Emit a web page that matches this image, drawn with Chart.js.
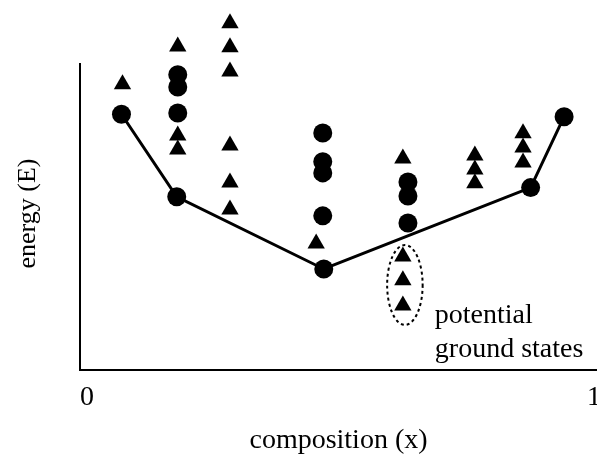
<!DOCTYPE html>
<html lang="en">
<head>
    <meta charset="UTF-8">
    <title>energy vs composition</title>
    <script src="https://cdn.jsdelivr.net/npm/chart.js"></script>
    <style>
        body { margin: 0; background: #fff; }
    </style>
</head>
<body>
    <canvas id="hullChart" width="597" height="465"></canvas>

    <script>
        // x tick labels
        const xTicks = [0, 1];

        // convex hull (ground state line)
        const hullX = [0.068, 0.177, 0.467, 0.875, 0.941];
        const hullE = [83.3, 56.4, 32.9, 59.4, 82.5];

        // other computed structures - circles
        const circleX = [0.179, 0.179, 0.179, 0.465, 0.465, 0.465, 0.465, 0.633, 0.633, 0.633];
        const circleE = [96.2, 92.2, 83.7, 77.2, 67.8, 64.2, 50.2, 61.2, 56.7, 47.9];

        // other computed structures - triangles
        const triX = [0.070, 0.179, 0.179, 0.179, 0.282, 0.282, 0.282, 0.282, 0.282, 0.282,
                      0.452, 0.623, 0.623, 0.623, 0.623, 0.765, 0.765, 0.765, 0.860, 0.860, 0.860];
        const triE = [93.1, 105.4, 76.4, 71.8, 112.9, 105.1, 97.2, 73.1, 61.1, 52.3,
                      41.2, 68.9, 37.0, 29.2, 21.0, 69.9, 65.3, 60.8, 77.1, 72.5, 67.6];

        // the drawn energy axis only runs up to here
        const axisTopE = 100;

        // dashed ring round the candidates, and its note
        const ringX = 0.627, ringE = 27.7, ringHalfW = 0.035, ringHalfH = 13.0;
        const noteX = 0.686;
        const noteLines = ['potential', 'ground states'];
        const noteE = [15.3, 4.2];

        const serif = '"Liberation Serif", "Times New Roman", serif';
        const toPoints = (xs, ys) => xs.map((v, i) => ({ x: v, y: ys[i] }));

        const extras = {
            id: 'extras',
            afterDatasetsDraw(chart) {
                const { ctx, chartArea, scales: { x, y } } = chart;
                const y0 = y.getPixelForValue(0);
                const yTop = y.getPixelForValue(axisTopE);
                ctx.save();
                ctx.strokeStyle = '#000';
                ctx.fillStyle = '#000';

                // short energy axis
                ctx.lineWidth = 2;
                ctx.beginPath();
                ctx.moveTo(chartArea.left, y0);
                ctx.lineTo(chartArea.left, yTop);
                ctx.stroke();

                // x tick labels (drawn here so the last one may run off the edge)
                ctx.font = '28px ' + serif;
                ctx.textAlign = 'center';
                ctx.textBaseline = 'top';
                xTicks.forEach(v => ctx.fillText(String(v), x.getPixelForValue(v), y0 + 14));

                // energy title, centred on the drawn axis
                ctx.save();
                ctx.translate(28, (y0 + yTop) / 2 - 3);
                ctx.rotate(-Math.PI / 2);
                ctx.font = '26px ' + serif;
                ctx.textBaseline = 'middle';
                ctx.fillText('energy (E)', 0, 0);
                ctx.restore();

                // dashed ring
                const cx = x.getPixelForValue(ringX);
                const cy = y.getPixelForValue(ringE);
                const rx = x.getPixelForValue(ringX + ringHalfW) - cx;
                const ry = cy - y.getPixelForValue(ringE + ringHalfH);
                ctx.setLineDash([3, 3]);
                ctx.beginPath();
                ctx.ellipse(cx, cy, rx, ry, 0, 0, Math.PI * 2);
                ctx.stroke();
                ctx.setLineDash([]);

                // note
                ctx.textAlign = 'left';
                ctx.textBaseline = 'alphabetic';
                noteLines.forEach((t, i) => {
                    ctx.fillText(t, x.getPixelForValue(noteX), y.getPixelForValue(noteE[i]));
                });
                ctx.restore();
            }
        };

        new Chart(document.getElementById('hullChart'), {
            type: 'scatter',
            data: {
                datasets: [{
                    type: 'line',
                    data: toPoints(hullX, hullE),
                    borderColor: '#000',
                    borderWidth: 3,
                    backgroundColor: '#000',
                    pointStyle: 'circle',
                    pointRadius: 9.5,
                    pointBorderWidth: 0,
                    tension: 0,
                    clip: false
                }, {
                    data: toPoints(circleX, circleE),
                    backgroundColor: '#000',
                    borderColor: '#000',
                    pointStyle: 'circle',
                    pointRadius: 9.5,
                    pointBorderWidth: 0,
                    clip: false
                }, {
                    data: toPoints(triX, triE),
                    backgroundColor: '#000',
                    borderColor: '#000',
                    pointStyle: 'triangle',
                    pointRadius: 10,
                    pointBorderWidth: 0,
                    clip: false
                }]
            },
            options: {
                responsive: false,
                animation: false,
                layout: { autoPadding: false, padding: { top: 8, left: 0, right: 0, bottom: 0 } },
                plugins: { legend: { display: false }, tooltip: { enabled: false } },
                scales: {
                    x: {
                        type: 'linear',
                        min: -0.0138,
                        max: 1.0059,
                        afterBuildTicks: axis => { axis.ticks = xTicks.map(v => ({ value: v })); },
                        afterFit: s => { s.height = 95; },
                        grid: { display: false, drawTicks: false },
                        border: { display: true, color: '#000', width: 2 },
                        ticks: { display: false },
                        title: {
                            display: true,
                            text: 'composition (x)',
                            color: '#000',
                            font: { family: serif, size: 28 },
                            padding: { top: 0, bottom: 8 }
                        }
                    },
                    y: {
                        min: 0,
                        max: 117.9,
                        afterFit: s => { s.width = 80; },
                        grid: { display: false, drawTicks: false },
                        border: { display: false },
                        ticks: { display: false },
                        title: { display: false }
                    }
                }
            },
            plugins: [extras]
        });
    </script>
</body>
</html>
